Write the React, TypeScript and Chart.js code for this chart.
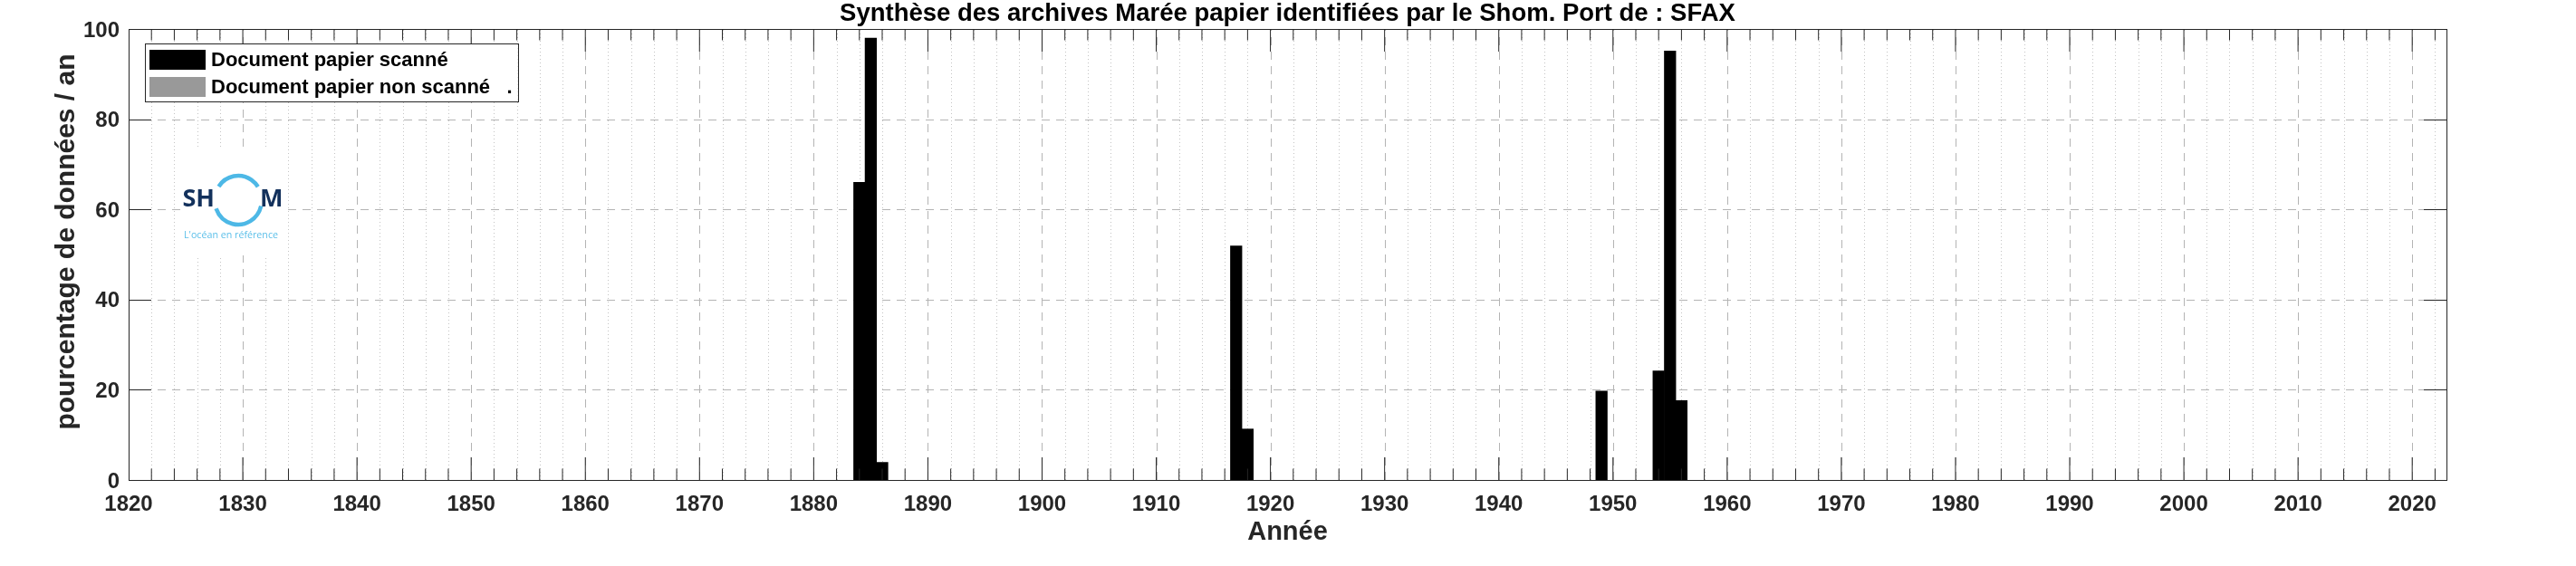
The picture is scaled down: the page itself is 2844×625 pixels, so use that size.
import React, { useEffect, useRef } from 'react';
import { Chart, registerables } from 'chart.js';

Chart.register(...registerables);

// ---------- data ----------
const TITLE = 'Synthèse des archives Marée papier identifiées par le Shom. Port de : SFAX';
const X_TITLE = 'Année';
const Y_TITLE = 'pourcentage de données / an';
const LEGEND_LABELS = ['Document papier scanné', 'Document papier non scanné   .'];

const SCANNED_YEARS = [1884, 1885, 1886, 1917, 1918, 1949, 1954, 1955, 1956];
const SCANNED_PCT = [66, 98, 3.9, 51.9, 11.3, 19.7, 24.2, 95.1, 17.6];
const UNSCANNED_YEARS: number[] = [];
const UNSCANNED_PCT: number[] = [];

const X_MIN = 1820;
const X_MAX = 2023;
const X_MAJOR_STEP = 10;
const X_MINOR_STEP = 2;
const Y_MIN = 0;
const Y_MAX = 100;
const Y_STEP = 20;

const LOGO_LEFT = 'SH';
const LOGO_RIGHT = 'M';
const LOGO_TAGLINE = "L'océan en référence";

// ---------- styles ----------
const FONT = "'Liberation Sans', Arial, Helvetica, sans-serif";
const AXIS_COLOR = '#262626';

const matlabPlugin = {
  id: 'matlabAxes',
  beforeDatasetsDraw(chart: any) {
    const { ctx, chartArea, scales } = chart;
    const { left, right, top, bottom } = chartArea;
    const x = scales.x;
    const y = scales.y;
    ctx.save();
    ctx.lineWidth = 1;
    const vline = (px: number) => {
      ctx.beginPath();
      ctx.moveTo(px, bottom);
      ctx.lineTo(px, top);
      ctx.stroke();
    };
    // minor dotted verticals
    ctx.strokeStyle = '#c4c4c4';
    ctx.setLineDash([1, 3]);
    for (let v = X_MIN + X_MINOR_STEP; v < X_MAX; v += X_MINOR_STEP) {
      if (v % X_MAJOR_STEP === 0) continue;
      vline(Math.round(x.getPixelForValue(v)) + 0.5);
    }
    // major dashed verticals
    ctx.strokeStyle = '#b4b4b4';
    ctx.setLineDash([9, 7]);
    for (let v = X_MIN + X_MAJOR_STEP; v < X_MAX; v += X_MAJOR_STEP) {
      vline(Math.round(x.getPixelForValue(v)) + 0.5);
    }
    // horizontal dashed
    for (let v = Y_MIN + Y_STEP; v < Y_MAX; v += Y_STEP) {
      const py = Math.round(y.getPixelForValue(v)) + 0.5;
      ctx.beginPath();
      ctx.moveTo(left, py);
      ctx.lineTo(right, py);
      ctx.stroke();
    }
    ctx.restore();
  },
  afterDatasetsDraw(chart: any) {
    const { ctx, chartArea, scales } = chart;
    const { left, right, top, bottom } = chartArea;
    const x = scales.x;
    const y = scales.y;
    ctx.save();

    // ---- logo ----
    const lx = left + 58;
    const ly = top + 133;
    ctx.fillStyle = '#ffffff';
    ctx.fillRect(lx, ly, 112, 117);
    const cx = lx + 63;
    const cy = ly + 56;
    ctx.strokeStyle = '#4db8e6';
    ctx.lineWidth = 4.5;
    ctx.setLineDash([]);
    const deg = Math.PI / 180;
    ctx.beginPath();
    ctx.ellipse(cx, cy, 26, 27, 0, 214 * deg, 327 * deg);
    ctx.stroke();
    ctx.beginPath();
    ctx.ellipse(cx, cy, 26, 27, 0, 14 * deg, 160 * deg);
    ctx.stroke();
    ctx.fillStyle = '#13315c';
    ctx.font = `bold 27px 'Open Sans', ${FONT}`;
    ctx.textBaseline = 'alphabetic';
    ctx.textAlign = 'right';
    ctx.fillText(LOGO_LEFT, lx + 37, ly + 63);
    ctx.textAlign = 'left';
    ctx.fillText(LOGO_RIGHT, lx + 87, ly + 63);
    ctx.fillStyle = '#5bbfe9';
    ctx.font = `11px 'Open Sans', ${FONT}`;
    ctx.textAlign = 'center';
    ctx.fillText(LOGO_TAGLINE, lx + 55, ly + 98, 104);

    // ---- tick marks ----
    ctx.strokeStyle = AXIS_COLOR;
    ctx.lineWidth = 1;
    const seg = (x1: number, y1: number, x2: number, y2: number) => {
      ctx.beginPath();
      ctx.moveTo(x1, y1);
      ctx.lineTo(x2, y2);
      ctx.stroke();
    };
    for (let v = X_MIN + X_MINOR_STEP; v < X_MAX; v += X_MINOR_STEP) {
      const px = x.getPixelForValue(v);
      const len = v % X_MAJOR_STEP === 0 ? 25 : 12.5;
      seg(px, bottom, px, bottom - len);
      seg(px, top, px, top + len);
    }
    for (let v = Y_MIN + Y_STEP; v < Y_MAX; v += Y_STEP) {
      const py = Math.round(y.getPixelForValue(v)) + 0.5;
      seg(left, py, left + 25, py);
      seg(right, py, right - 25, py);
    }
    // ---- box ----
    ctx.strokeRect(Math.round(left) + 0.5, Math.round(top) + 0.5, Math.round(right - left), Math.round(bottom - top));

    // ---- title ----
    ctx.fillStyle = '#000000';
    ctx.font = `bold 27.5px ${FONT}`;
    ctx.textAlign = 'center';
    ctx.textBaseline = 'alphabetic';
    ctx.fillText(TITLE, (left + right) / 2, 23);

    // ---- y axis title ----
    ctx.save();
    ctx.fillStyle = AXIS_COLOR;
    ctx.font = `bold 30px ${FONT}`;
    ctx.translate(74, (top + bottom) / 2 - 14);
    ctx.rotate(-Math.PI / 2);
    ctx.textAlign = 'center';
    ctx.textBaseline = 'middle';
    ctx.fillText(Y_TITLE, 0, 0);
    ctx.restore();

    // ---- legend ----
    const datasets = chart.data.datasets;
    ctx.font = `bold 22px ${FONT}`;
    let maxW = 0;
    datasets.forEach((d: any) => {
      maxW = Math.max(maxW, ctx.measureText(d.label).width);
    });
    const bx = left + 18;
    const by = top + 16;
    const bw = 73 + maxW + 6;
    const bh = 64;
    ctx.fillStyle = '#ffffff';
    ctx.fillRect(bx, by, bw, bh);
    ctx.strokeStyle = AXIS_COLOR;
    ctx.strokeRect(Math.round(bx) + 0.5, Math.round(by) + 0.5, Math.round(bw), bh);
    datasets.forEach((d: any, i: number) => {
      const rowY = by + 7 + i * 30;
      ctx.fillStyle = d.backgroundColor;
      ctx.fillRect(bx + 5, rowY, 62, 22);
      ctx.fillStyle = '#000000';
      ctx.textAlign = 'left';
      ctx.textBaseline = 'middle';
      ctx.fillText(d.label, bx + 73, rowY + 12);
    });
    ctx.restore();
  },
};

export default function App() {
  const canvasRef = useRef<HTMLCanvasElement | null>(null);

  useEffect(() => {
    const canvas = canvasRef.current;
    if (!canvas) return;
    const chart = new Chart(canvas, {
      type: 'bar',
      data: {
        datasets: [
          {
            label: LEGEND_LABELS[0],
            data: SCANNED_YEARS.map((yr, i) => ({ x: yr, y: SCANNED_PCT[i] })),
            backgroundColor: '#000000',
            borderWidth: 0,
            grouped: false,
            barPercentage: 1,
            categoryPercentage: 1,
          },
          {
            label: LEGEND_LABELS[1],
            data: UNSCANNED_YEARS.map((yr, i) => ({ x: yr, y: UNSCANNED_PCT[i] })),
            backgroundColor: '#999999',
            borderWidth: 0,
            grouped: false,
            barPercentage: 1,
            categoryPercentage: 1,
          },
        ],
      } as any,
      options: {
        responsive: false,
        animation: false,
        devicePixelRatio: 1,
        layout: { padding: { top: 32, right: 143, left: 0, bottom: 0 } },
        plugins: {
          legend: { display: false },
          title: { display: false },
          tooltip: { enabled: false },
        },
        scales: {
          x: {
            type: 'linear',
            min: X_MIN,
            max: X_MAX,
            offset: false,
            grid: { display: false, drawTicks: false },
            border: { display: false },
            ticks: {
              stepSize: X_MAJOR_STEP,
              includeBounds: false,
              autoSkip: false,
              maxRotation: 0,
              minRotation: 0,
              padding: 13,
              color: AXIS_COLOR,
              font: { family: FONT, size: 24, weight: 'bold' },
              callback: (v: any) => (Number(v) % X_MAJOR_STEP === 0 ? String(v) : ''),
            },
            title: {
              display: true,
              text: X_TITLE,
              color: AXIS_COLOR,
              font: { family: FONT, size: 29, weight: 'bold' },
              padding: { top: 0, bottom: 20 },
            },
            afterFit: (s: any) => {
              s.height = 95;
            },
          },
          y: {
            min: Y_MIN,
            max: Y_MAX,
            grid: { display: false, drawTicks: false },
            border: { display: false },
            ticks: {
              stepSize: Y_STEP,
              padding: 10,
              labelOffset: 2,
              color: AXIS_COLOR,
              font: { family: FONT, size: 24, weight: 'bold' },
            },
            title: { display: false },
            afterFit: (s: any) => {
              s.width = 142;
            },
          },
        },
      } as any,
      plugins: [matlabPlugin],
    });
    return () => chart.destroy();
  }, []);

  return (
    <div style={{ position: 'absolute', left: 0, top: 0, width: 2844, height: 625, background: '#ffffff' }}>
      <canvas ref={canvasRef} width={2844} height={625} style={{ width: 2844, height: 625, display: 'block' }} />
    </div>
  );
}
